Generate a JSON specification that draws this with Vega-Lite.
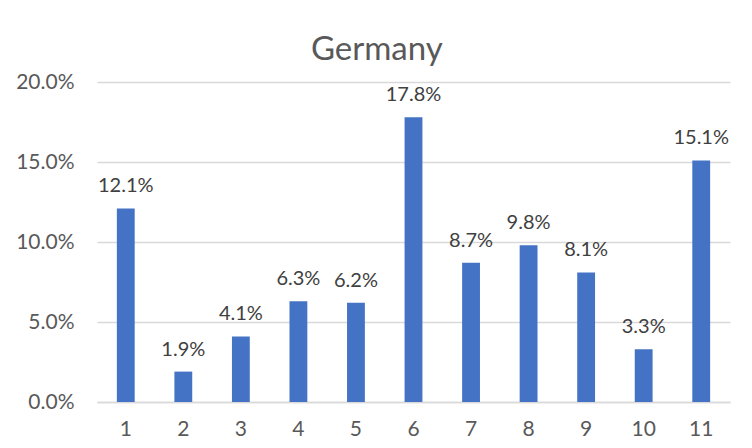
{
  "$schema": "https://vega.github.io/schema/vega-lite/v6.json",
  "width": 633,
  "height": 320,
  "autosize": {"type": "none"},
  "padding": {"left": 97, "top": 82, "right": 22, "bottom": 46},
  "background": "white",
  "config": {"view": {"stroke": null}, "font": "Lato"},
  "title": {"text": "Germany", "fontSize": 33, "font": "Lato", "fontWeight": "normal", "color": "#595959", "anchor": "middle", "frame": "bounds", "baseline": "alphabetic", "offset": -22, "dx": 4},
  "data": {"values": [
    {"cat": "1", "v": 0.121},
    {"cat": "2", "v": 0.019},
    {"cat": "3", "v": 0.041},
    {"cat": "4", "v": 0.063},
    {"cat": "5", "v": 0.062},
    {"cat": "6", "v": 0.178},
    {"cat": "7", "v": 0.087},
    {"cat": "8", "v": 0.098},
    {"cat": "9", "v": 0.081},
    {"cat": "10", "v": 0.033},
    {"cat": "11", "v": 0.151}
  ]},
  "encoding": {
    "x": {"field": "cat", "type": "ordinal", "sort": null,
      "scale": {"paddingInner": 0.69, "paddingOuter": 0.345},
      "axis": {"title": null, "labelAngle": 0, "ticks": false, "domainColor": "#d9d9d9", "domainWidth": 1.5, "labelFontSize": 21, "labelColor": "#595959", "labelPadding": 16, "grid": false}},
    "y": {"field": "v", "type": "quantitative",
      "scale": {"domain": [0, 0.2]},
      "axis": {"title": null, "values": [0, 0.05, 0.1, 0.15, 0.2], "format": ".1%", "domain": false, "ticks": false, "gridColor": "#d9d9d9", "gridWidth": 1.5, "labelFontSize": 21, "labelColor": "#595959", "labelPadding": 23}}
  },
  "layer": [
    {"mark": {"type": "bar", "color": "#4472C4"}},
    {"mark": {"type": "text", "baseline": "bottom", "dy": -12, "fontSize": 20, "color": "#404040"},
      "encoding": {"text": {"field": "v", "type": "quantitative", "format": ".1%"}}}
  ]
}
